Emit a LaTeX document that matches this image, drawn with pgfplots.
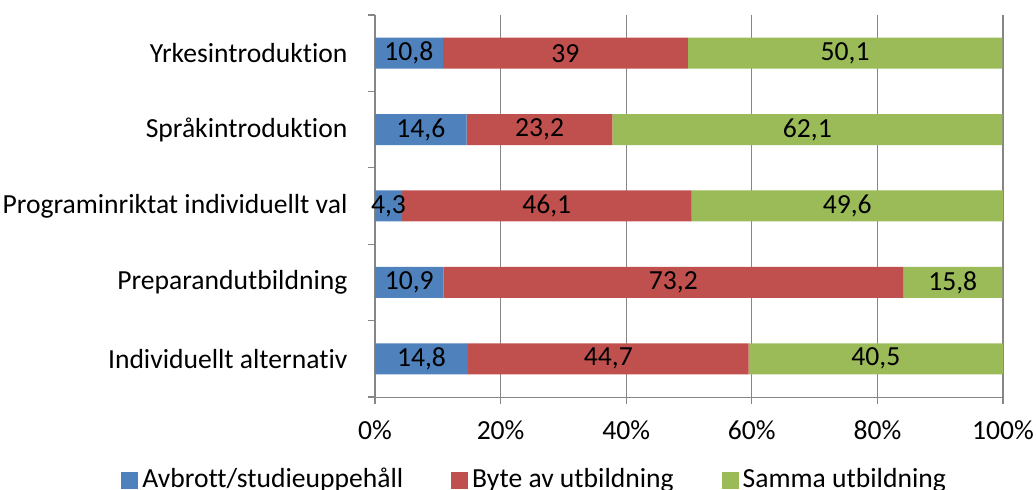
\documentclass[border=0pt]{standalone}
\usepackage{pgfplots}
\pgfplotsset{compat=1.18}
\usepackage{fontspec}
\setmainfont{Carlito}[Ligatures={NoCommon}]
\definecolor{cblue}{HTML}{4F81BD}
\definecolor{cred}{HTML}{C0504D}
\definecolor{cgreen}{HTML}{9BBB59}
\definecolor{cgrid}{HTML}{868686}
\newcommand{\chfont}{\fontsize{13.8pt}{16pt}\selectfont}
\begin{document}
\chfont
\begin{tikzpicture}
\begin{axis}[
  at={(187.5pt,46.5pt)}, anchor=south west,
  scale only axis, width=314pt, height=191pt,
  xbar stacked, bar width=15.5pt,
  xmin=0, xmax=100, ymin=-0.5, ymax=4.5,
  axis x line*=bottom, axis y line*=left,
  axis line style={cgrid},
  every tick/.style={cgrid, semithick},
  tick align=outside,
  major tick length=3.5pt,
  xtick={0,20,...,100},
  xticklabel={\pgfmathprintnumber{\tick}\%},
  xmajorgrids=true,
  major grid style={cgrid, semithick},
  ytick={-0.5,0.5,...,4.5},
  yticklabels={},
  extra y ticks={0,1,2,3,4},
  extra y tick labels={Individuellt alternativ, Preparandutbildning, Programinriktat individuellt val, Språkintroduktion, Yrkesintroduktion},
  extra y tick style={major tick length=0pt, grid=none},
  yticklabel style={anchor=east, xshift=-9pt, font=\chfont},
  xticklabel style={font=\chfont, yshift=-3.5pt},
  /pgf/number format/assume math mode=true,
  /pgf/number format/use comma,
  point meta=explicit,
  nodes near coords={\pgfmathprintnumber{\pgfplotspointmeta}},
  every node near coord/.append style={font=\chfont, black},
  legend columns=3,
  legend style={draw=none, fill=none, at={(-0.414,-0.165)}, anchor=north west,
    font=\chfont, /tikz/every even column/.append style={column sep=22pt}},
  legend image code/.code={\fill[#1] (-1.5pt,-4.25pt) rectangle (7pt,4.25pt);},
]
\addplot[fill=cblue, draw=none] coordinates {(14.8,0) [14.8] (10.9,1) [10.9] (4.3,2) [4.3] (14.6,3) [14.6] (10.8,4) [10.8]};
\addlegendentry{Avbrott/studieuppehåll}
\addplot[fill=cred, draw=none] coordinates {(44.7,0) [44.7] (73.2,1) [73.2] (46.1,2) [46.1] (23.2,3) [23.2] (39,4) [39]};
\addlegendentry{Byte av utbildning}
\addplot[fill=cgreen, draw=none] coordinates {(40.5,0) [40.5] (15.8,1) [15.8] (49.6,2) [49.6] (62.1,3) [62.1] (50.1,4) [50.1]};
\addlegendentry{Samma utbildning}
\end{axis}
\pgfresetboundingbox
\path[use as bounding box] (0,0) rectangle (518pt,245pt);
\end{tikzpicture}
\end{document}
